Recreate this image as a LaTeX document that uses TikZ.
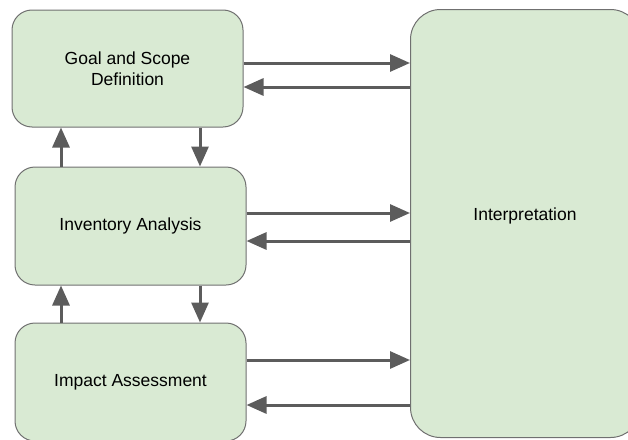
\documentclass[tikz,border=0pt]{standalone}
\usepackage{fontspec}
\setmainfont{Liberation Sans}
\usetikzlibrary{arrows.meta}
\definecolor{boxfill}{HTML}{D9EAD3}
\definecolor{boxline}{HTML}{707070}
\definecolor{arrowgray}{HTML}{5C5C5C}
\begin{document}
\begin{tikzpicture}[x=1pt,y=-1pt,
  phase/.style={draw=boxline, line width=1pt, fill=boxfill, rounded corners=20pt,
    minimum width=231pt, minimum height=118pt, inner sep=0pt, align=center,
    font=\fontsize{17.5}{21.5}\selectfont},
  flow/.style={draw=arrowgray, line width=3pt,
    -{Triangle[length=20pt,width=17pt]}}]
\useasboundingbox (0,0) rectangle (628,439);
\clip (0,0) rectangle (628,439);
% interpretation stage, running off the right and bottom edges
\node[phase, rounded corners=30pt, minimum width=230pt, minimum height=428pt,
  anchor=north west] (interp) at (410,9) {};
\node[font=\fontsize{17.5}{21.5}\selectfont] (interptext) at (525,215.5) {Interpretation};
% the three left-hand stages
\node[phase, minimum height=117pt] (goal) at (127.5,68.5) {Goal and Scope\\Definition};
\node[phase] (inv) at (130.5,226) {\raisebox{-1.5pt}{Inventory Analysis}};
\node[phase] (imp) at (130.5,382) {\raisebox{-1.5pt}{Impact Assessment}};
% columns of the vertical connectors
\coordinate (upx) at (61,0);
\coordinate (downx) at (200,0);
% goal <-> interpretation
\draw[flow] ([yshift=5.5pt]goal.east) -- ([yshift=5.5pt]goal.east -| interp.west);
\draw[flow] ([yshift=-18.5pt]goal.east -| interp.west) -- ([yshift=-18.5pt]goal.east);
% inventory <-> interpretation
\draw[flow] ([yshift=13pt]inv.east) -- ([yshift=13pt]inv.east -| interp.west);
\draw[flow] ([yshift=-15pt]inv.east -| interp.west) -- ([yshift=-15pt]inv.east);
% impact <-> interpretation
\draw[flow] ([yshift=22pt]imp.east) -- ([yshift=22pt]imp.east -| interp.west);
\draw[flow] ([yshift=-23pt]imp.east -| interp.west) -- ([yshift=-23pt]imp.east);
% vertical links between stages
\draw[flow] (inv.north -| upx) -- (goal.south -| upx);
\draw[flow] (goal.south -| downx) -- (inv.north -| downx);
\draw[flow] (imp.north -| upx) -- (inv.south -| upx);
\draw[flow] (inv.south -| downx) -- (imp.north -| downx);
\end{tikzpicture}
\end{document}
